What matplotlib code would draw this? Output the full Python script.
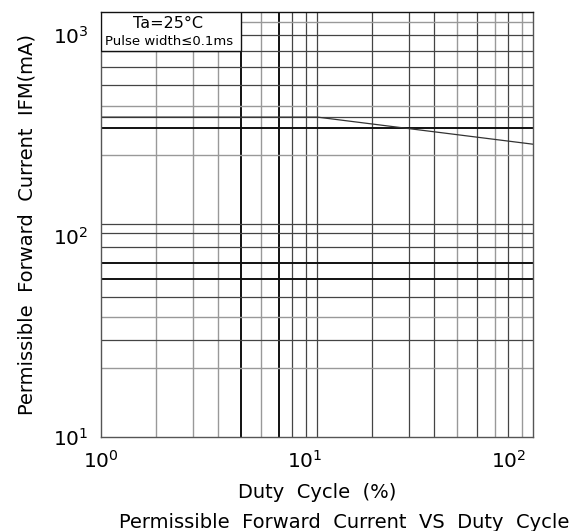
import matplotlib.pyplot as plt
from matplotlib.patches import Rectangle

# curve: flat until ~11.5 %, then falls off
duty = [1.0, 11.5, 131.0]
ifm = [390, 390, 286]

# the grid of the original sheet is not a regular log grid
x_grid = [1.85, 2.82, 3.75, 4.83, 6.07, 7.46, 8.66, 10.15, 11.5, 21.4,
          32.4, 43.0, 55.4, 70.0, 85.7, 99.3, 116.0]
x_grid_heavy = [4.83, 7.46]
x_grid_light = [1.85, 2.82, 3.75, 6.07, 55.4, 85.7, 116.0]

y_grid = [1157, 1000, 830, 690, 562, 445, 390, 343.5, 252, 114.4, 103.1,
          87.8, 73.4, 61.1, 49.5, 39.4, 30.3, 22.1]
y_grid_heavy = [343.5, 73.4, 61.1]
y_grid_light = [1157, 445, 252, 39.4, 22.1]

fig = plt.figure(figsize=(5.81, 5.31), dpi=100)
ax = fig.add_axes([101 / 581, 1 - 437 / 531, 432 / 581, 425 / 531])
ax.set_xscale("log")
ax.set_yscale("log")
ax.set_xlim(1, 131)
ax.set_ylim(10, 1300)


def line_style(v, heavy, light):
    if v in heavy:
        return "#111111", 1.4
    if v in light:
        return "#999999", 1.0
    return "#444444", 0.9


for v in x_grid:
    c, lw = line_style(v, x_grid_heavy, x_grid_light)
    ax.axvline(v, color=c, lw=lw, zorder=1)
for v in y_grid:
    c, lw = line_style(v, y_grid_heavy, y_grid_light)
    ax.axhline(v, color=c, lw=lw, zorder=1)

ax.plot(duty, ifm, color="#333333", lw=0.9, zorder=2)

# condition box in the upper left corner
ax.add_patch(Rectangle((1, 830), 4.83 - 1, 1300 - 830, facecolor="white",
                       edgecolor="#111111", lw=1.0, zorder=3))
ax.text(2.12, 1140, "Ta=25°C", ha="center", va="center", fontsize=11.5, zorder=4)
ax.text(2.15, 930, "Pulse width≤0.1ms", ha="center", va="center", fontsize=9.5,
        zorder=4)

ax.set_xticks([1, 10, 100])
ax.set_xticklabels([r"$10^0$", r"$10^1$", r"$10^2$"])
ax.set_yticks([10, 100, 1000])
ax.set_yticklabels([r"$10^1$", r"$10^2$", r"$10^3$"])
ax.minorticks_off()
ax.tick_params(length=0, labelsize=14.5, pad=9)
for sp in ax.spines.values():
    sp.set_color("#555555")
    sp.set_linewidth(1.0)
ax.spines["top"].set_color("#111111")

ax.set_xlabel("Duty  Cycle  (%)", fontsize=14, labelpad=8)
ax.set_ylabel("Permissible  Forward  Current  IFM(mA)", fontsize=14,
              labelpad=12)
fig.text(344 / 581, 1 - 522 / 531,
         "Permissible  Forward  Current  VS  Duty  Cycle",
         ha="center", va="center", fontsize=14)

fig.savefig("out.png", dpi=100)
